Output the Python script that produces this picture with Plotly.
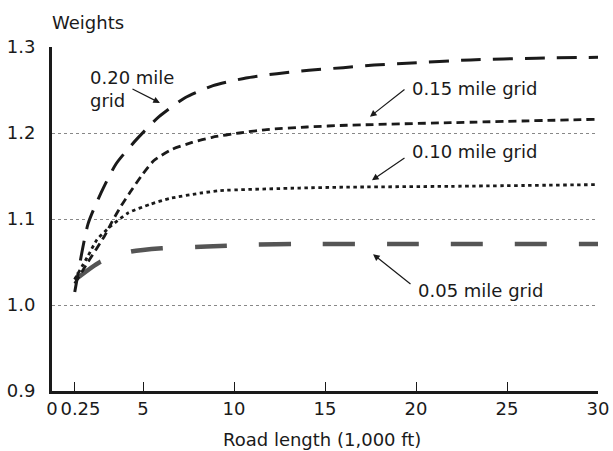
import plotly.graph_objects as go

# ---- data (road length in 1,000 ft, weights) ----
x_020 = [0.25, 1.17, 2.07, 3.12, 4.52, 5.88, 7.31, 8.85, 10.66, 12.36, 14.12, 16.0, 17.7, 19.5, 23.0, 26.6, 30.0]
y_020 = [1.015, 1.094, 1.130, 1.164, 1.192, 1.219, 1.241, 1.255, 1.264, 1.269, 1.273, 1.276, 1.279, 1.281, 1.285, 1.287, 1.288]

x_015 = [0.25, 1.17, 2.35, 2.85, 3.47, 4.10, 4.93, 5.6, 6.6, 7.7, 8.8, 10.3, 11.8, 14.0, 16.2, 21.9, 30.0]
y_015 = [1.025, 1.050, 1.081, 1.097, 1.115, 1.131, 1.151, 1.168, 1.181, 1.189, 1.195, 1.200, 1.204, 1.207, 1.209, 1.212, 1.216]

x_010 = [0.25, 1.17, 1.80, 2.71, 3.96, 5.38, 6.48, 8.13, 9.23, 13.6, 16.0, 21.9, 30.0]
y_010 = [1.030, 1.057, 1.076, 1.091, 1.107, 1.117, 1.124, 1.130, 1.133, 1.136, 1.137, 1.138, 1.140]

x_005 = [0.25, 2.01, 4.10, 6.04, 8.5, 10.9, 13.6, 19.1, 30.0]
y_005 = [1.029, 1.050, 1.062, 1.066, 1.068, 1.070, 1.071, 1.071, 1.071]

x_tick_values = [0, 0.25, 5, 10, 15, 20, 25, 30]
x_tick_labels = ["0", "\u00a0\u00a00.25", "5", "10", "15", "20", "25", "30"]
y_tick_values = [0.9, 1.0, 1.1, 1.2, 1.3]
y_tick_labels = ["0.9", "1.0", "1.1", "1.2", "1.3"]


# The original axis is stretched between 0 and 5 so that 0.25 sits at ~1.25
def pos(v):
    if v < 5:
        if v <= 0.25:
            return v * 1.25 / 0.25
        return 1.25 + (v - 0.25) * (5 - 1.25) / (5 - 0.25)
    return v


def mp(xs):
    return [pos(v) for v in xs]


FONT = "DejaVu Sans"
fig = go.Figure()

fig.add_trace(go.Scatter(x=mp(x_005), y=y_005, mode="lines", line_shape="spline",
                         line=dict(color="#555555", width=4.5, dash="32px,32px", smoothing=0.6),
                         showlegend=False, hoverinfo="skip", cliponaxis=False))
fig.add_trace(go.Scatter(x=mp(x_010), y=y_010, mode="lines", line_shape="spline",
                         line=dict(color="#1a1a1a", width=2.8, dash="3.5px,3.5px", smoothing=0.6),
                         showlegend=False, hoverinfo="skip", cliponaxis=False))
fig.add_trace(go.Scatter(x=mp(x_015), y=y_015, mode="lines", line_shape="spline",
                         line=dict(color="#1a1a1a", width=2.8, dash="8px,5px", smoothing=0.6),
                         showlegend=False, hoverinfo="skip", cliponaxis=False))
fig.add_trace(go.Scatter(x=mp(x_020), y=y_020, mode="lines", line_shape="spline",
                         line=dict(color="#1a1a1a", width=3, dash="20px,12px", smoothing=0.6),
                         showlegend=False, hoverinfo="skip", cliponaxis=False))

fig.update_layout(
    width=613, height=451,
    margin=dict(l=52, r=15, t=47, b=60, autoexpand=False),
    plot_bgcolor="white", paper_bgcolor="white",
    font=dict(family=FONT, size=18, color="#1a1a1a"),
)

fig.update_xaxes(
    range=[0, 30], automargin=False, tickangle=0,
    tickvals=[pos(v) for v in x_tick_values], ticktext=x_tick_labels,
    ticks="inside", ticklen=9, tickwidth=1, tickcolor="#1a1a1a",
    showline=True, linecolor="#1a1a1a", linewidth=2.5,
    showgrid=False, zeroline=False,
    tickfont=dict(family=FONT, size=18, color="#1a1a1a"),
)
fig.update_yaxes(
    range=[0.9, 1.3], automargin=False,
    tickvals=y_tick_values, ticktext=y_tick_labels,
    ticks="", showline=True, linecolor="#1a1a1a", linewidth=3,
    showgrid=True, gridcolor="#888888", gridwidth=1, griddash="dot",
    zeroline=False, ticklabelstandoff=10,
    tickfont=dict(family=FONT, size=18, color="#1a1a1a"),
)

annotations = [
    dict(text="Weights", xref="paper", yref="paper", x=-0.004, y=1.07,
         xanchor="left", yanchor="middle", showarrow=False),
    dict(text="Road length (1,000 ft)", xref="paper", yref="paper", x=0.495, y=-0.14,
         xanchor="center", yanchor="middle", showarrow=False),
    dict(text="0.20 mile<br>grid", x=1.98, y=1.251, xanchor="left", yanchor="middle",
         align="left", showarrow=False),
    dict(text="0.15 mile grid", x=19.67, y=1.252, xanchor="left", yanchor="middle", showarrow=False),
    dict(text="0.10 mile grid", x=19.67, y=1.178, xanchor="left", yanchor="middle", showarrow=False),
    dict(text="0.05 mile grid", x=20.0, y=1.017, xanchor="left", yanchor="middle", showarrow=False),
]
arrows = [
    ((5.93, 1.235), (4.34, 1.252)),
    ((17.47, 1.219), (19.45, 1.252)),
    ((17.58, 1.145), (19.45, 1.172)),
    ((17.64, 1.059), (19.78, 1.023)),
]
for (hx, hy), (tx, ty) in arrows:
    annotations.append(dict(text="", x=hx, y=hy, ax=tx, ay=ty, axref="x", ayref="y",
                            showarrow=True, arrowhead=2, arrowsize=1.1, arrowwidth=1.2,
                            arrowcolor="#1a1a1a"))
fig.update_layout(annotations=annotations)

fig.write_html("out.html",
               config={"displayModeBar": False},
               post_script="document.body.style.margin='0';document.body.style.overflow='hidden';")
